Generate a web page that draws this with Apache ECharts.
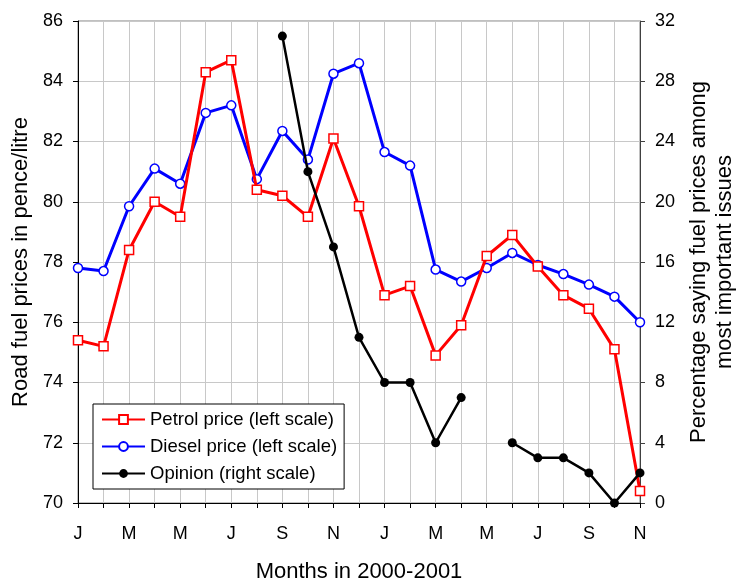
<!DOCTYPE html>
<html>
<head>
<meta charset="utf-8">
<script src="https://cdn.jsdelivr.net/npm/echarts@6/dist/echarts.min.js"></script>
<style>
  html, body { margin: 0; padding: 0; background: #fff; }
  #chart { width: 742px; height: 581px; }
</style>
</head>
<body>
<div id="chart"></div>
<script>
// Jan 2000 .. Nov 2001
const months = ['J','F','M','A','M','J','J','A','S','O','N','D',
                'J','F','M','A','M','J','J','A','S','O','N'];

// pence per litre (left scale)
const petrol = [75.4, 75.2, 78.4, 80.0, 79.5, 84.3, 84.7, 80.4, 80.2, 79.5, 82.1, 79.85,
                76.9, 77.2, 74.9, 75.9, 78.2, 78.9, 77.85, 76.9, 76.45, 75.1, 70.4];
const diesel = [77.8, 77.7, 79.85, 81.1, 80.6, 82.95, 83.2, 80.75, 82.35, 81.4, 84.25, 84.6,
                81.65, 81.2, 77.75, 77.35, 77.8, 78.3, 77.9, 77.6, 77.25, 76.85, 76.0];
// % saying fuel prices among most important issues (right scale)
const opinion = [null, null, null, null, null, null, null, null, 31, 22, 17, 11,
                 8, 8, 4, 7, null, 4, 3, 3, 2, 0, 2];

const leftTicks = { min: 70, max: 86, interval: 2 };
const rightTicks = { min: 0, max: 32, interval: 4 };

const font = 'Arial, "Liberation Sans", sans-serif';
const chart = echarts.init(document.getElementById('chart'));

const option = {
  animation: false,
  textStyle: { fontFamily: font, color: '#000' },
  grid: {
    left: 78, right: 102, top: 21, bottom: 78,
    outerBoundsMode: 'none',
    containLabel: false,
    show: true, borderColor: '#808080', borderWidth: 1
  },
  legend: {
    orient: 'vertical',
    left: 93, top: 404,
    backgroundColor: '#fff',
    borderColor: '#000', borderWidth: 1, borderRadius: 0,
    padding: [6, 7, 6, 8],
    itemGap: 8, itemWidth: 43, itemHeight: 11,
    textStyle: { fontSize: 18.5, color: '#000', fontFamily: font },
    data: ['Petrol price (left scale)', 'Diesel price (left scale)', 'Opinion (right scale)']
  },
  xAxis: {
    type: 'category',
    data: months,
    boundaryGap: false,
    name: 'Months in 2000-2001',
    nameLocation: 'middle',
    nameGap: 58,
    nameTextStyle: { fontSize: 22, color: '#000' },
    axisLine: { lineStyle: { color: '#000', width: 1 } },
    axisTick: { show: true, interval: 0, length: 5, lineStyle: { color: '#000' } },
    axisLabel: { interval: 1, fontSize: 18, color: '#000', margin: 22 },
    splitLine: { show: true, interval: 0, lineStyle: { color: '#c8c8c8', width: 1 } }
  },
  yAxis: [
    {
      type: 'value',
      position: 'left',
      min: leftTicks.min, max: leftTicks.max, interval: leftTicks.interval,
      name: 'Road fuel prices in pence/litre',
      nameLocation: 'middle',
      nameRotate: 90,
      nameGap: 46,
      nameTextStyle: { fontSize: 22, color: '#000' },
      axisLine: { show: true, lineStyle: { color: '#000', width: 1 } },
      axisTick: { show: true, length: 5, lineStyle: { color: '#000' } },
      axisLabel: { fontSize: 18, color: '#000', margin: 15 },
      splitLine: { show: true, lineStyle: { color: '#c8c8c8', width: 1 } }
    },
    {
      type: 'value',
      position: 'right',
      min: rightTicks.min, max: rightTicks.max, interval: rightTicks.interval,
      name: 'Percentage saying fuel prices among\nmost important issues',
      nameLocation: 'middle',
      nameRotate: 90,
      nameGap: 42,
      nameTextStyle: { fontSize: 22, color: '#000', lineHeight: 26 },
      axisLine: { show: true, lineStyle: { color: '#404040', width: 1 } },
      axisTick: { show: true, length: 5, lineStyle: { color: '#404040' } },
      axisLabel: { fontSize: 18, color: '#000', margin: 15 },
      splitLine: { show: false }
    }
  ],
  series: [
    {
      name: 'Petrol price (left scale)',
      type: 'line',
      yAxisIndex: 0,
      data: petrol,
      symbol: 'rect',
      symbolSize: 9,
      lineStyle: { color: '#ff0000', width: 3 },
      itemStyle: { color: '#fff', borderColor: '#ff0000', borderWidth: 1.5 },
      z: 3
    },
    {
      name: 'Diesel price (left scale)',
      type: 'line',
      yAxisIndex: 0,
      data: diesel,
      symbol: 'circle',
      symbolSize: 9,
      lineStyle: { color: '#0000ff', width: 3 },
      itemStyle: { color: '#fff', borderColor: '#0000ff', borderWidth: 1.5 },
      z: 2
    },
    {
      name: 'Opinion (right scale)',
      type: 'line',
      yAxisIndex: 1,
      data: opinion,
      symbol: 'circle',
      symbolSize: 9,
      connectNulls: false,
      lineStyle: { color: '#000', width: 2.5 },
      itemStyle: { color: '#000', borderColor: '#000', borderWidth: 0 },
      z: 4
    }
  ]
};

chart.setOption(option);
</script>
</body>
</html>
